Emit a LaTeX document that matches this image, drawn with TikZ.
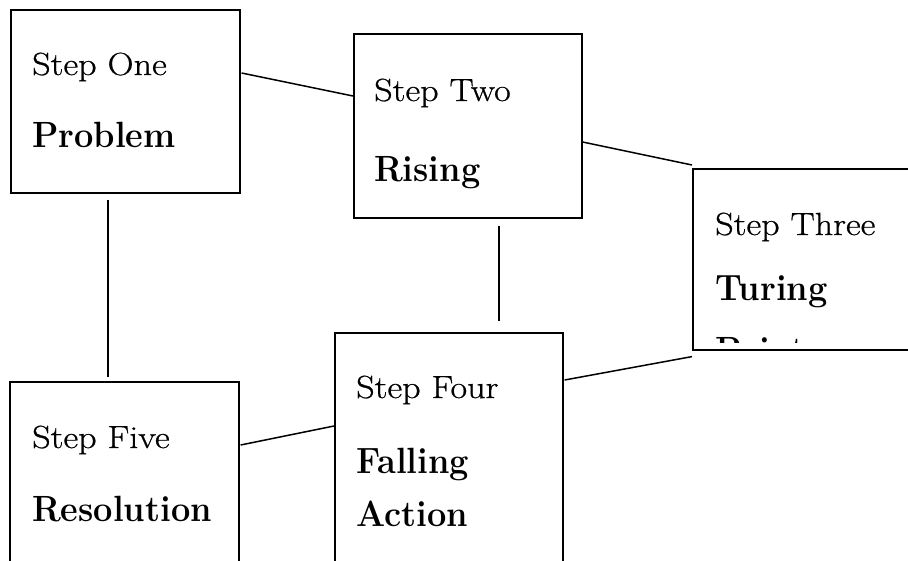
\documentclass[tikz,border=0pt]{standalone}
\usepackage{fontspec}
\setmainfont{Latin Modern Roman}
\newfontface\regface[FakeBold=0.6]{Latin Modern Roman}
\usetikzlibrary{calc}
\newcommand{\regtxt}[1]{\scalebox{1.13}[1]{#1}}
\newcommand{\boldtxt}[1]{\scalebox{0.94}[1]{#1}}
\begin{document}
\begin{tikzpicture}[x=1pt,y=-1pt]
\tikzset{
  box/.style={draw,line width=1.6pt,inner sep=0pt,minimum width=229pt,anchor=north west},
  link/.style={draw,line width=1.5pt},
  lbl/.style={anchor=base west,inner sep=0pt,font=\regface\fontsize{32}{34}\selectfont},
  ttl/.style={anchor=base west,inner sep=0pt,font=\bfseries\fontsize{36.5}{38}\selectfont}
}
\useasboundingbox (0,0) rectangle (908,560);
\fill[white] (0,0) rectangle (908,560);
\clip (0,0) rectangle (908,560);
% boxes
\node[box,minimum height=183pt] (b1) at (10,9) {};
\node[box,minimum height=184pt,minimum width=228pt] (b2) at (353,33) {};
\node[box,minimum height=181pt,minimum width=228pt] (b3) at (692,168) {};
\node[box,minimum height=240pt,minimum width=228pt] (b4) at (334,332) {};
\node[box,minimum height=200pt] (b5) at (9,381) {};
% texts
\node[lbl] (t1a) at (32,75) {\regtxt{Step One}};
\node[ttl] (t1b) at (32,147) {\boldtxt{Problem}};
\node[lbl] (t2a) at (374,101) {\regtxt{Step Two}};
\node[ttl] (t2b) at (374,181) {\boldtxt{Rising}};
\begin{scope}
\clip (b3.north west) rectangle ($(b3.south east)+(0,-8)$);
\node[lbl] (t3a) at (715,235) {\regtxt{Step Three}};
\node[ttl] (t3b) at (715,300) {\boldtxt{Turing}};
\node[ttl] (t3c) at (715,362) {\boldtxt{Point}};
\end{scope}
\node[lbl] (t4a) at (356,398) {\regtxt{Step Four}};
\node[ttl] (t4b) at (356,473) {\boldtxt{Falling}};
\node[ttl] (t4c) at (356,526) {\boldtxt{Action}};
\node[lbl] (t5a) at (32,448) {\regtxt{Step Five}};
\node[ttl] (t5b) at (32,521) {\boldtxt{Resolution}};
% connector end points
\coordinate (c12a) at ($(b1.north east)+(1,64)$);
\coordinate (c12b) at ($(b2.north west)+(0,63)$);
\coordinate (c23a) at ($(b2.north east)+(0,109)$);
\coordinate (c23b) at ($(b3.north west)+(0,-3)$);
\coordinate (c15a) at ($(b1.south west)+(98,6)$);
\coordinate (c15b) at ($(b5.north west)+(99,-4)$);
\coordinate (c24a) at ($(b2.south west)+(146,7)$);
\coordinate (c24b) at ($(b4.north west)+(165,-11)$);
\coordinate (c43a) at ($(b4.north east)+(1,48)$);
\coordinate (c43b) at ($(b3.south west)+(0,6)$);
\coordinate (c54a) at ($(b5.north east)+(1,64)$);
\coordinate (c54b) at ($(b4.north west)+(0,94)$);
\draw[link] (c12a) -- (c12b);
\draw[link] (c23a) -- (c23b);
\draw[link] (c15a) -- (c15b);
\draw[link] (c24a) -- (c24b);
\draw[link] (c43a) -- (c43b);
\draw[link] (c54a) -- (c54b);
\end{tikzpicture}
\end{document}
